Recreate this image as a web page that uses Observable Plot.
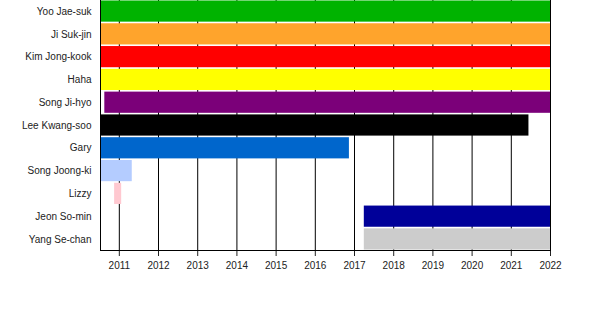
<!DOCTYPE html>
<html>
<head>
<meta charset="utf-8">
<script src="https://cdn.jsdelivr.net/npm/d3@7"></script>
<script src="https://cdn.jsdelivr.net/npm/@observablehq/plot@0.6"></script>
<style>
  html, body { margin: 0; padding: 0; background: #fff; }
  #chart svg { display: block; }
</style>
</head>
<body>
<div id="chart"></div>
<script>
const members = ["Yoo Jae-suk", "Ji Suk-jin", "Kim Jong-kook", "Haha", "Song Ji-hyo", "Lee Kwang-soo", "Gary", "Song Joong-ki", "Lizzy", "Jeon So-min", "Yang Se-chan"];
const starts = [2010.52, 2010.52, 2010.52, 2010.52, 2010.63, 2010.52, 2010.52, 2010.52, 2010.88, 2017.25, 2017.25];
const ends = [2022, 2022, 2022, 2022, 2022, 2021.45, 2016.87, 2011.33, 2011.06, 2022, 2022];
const colors = ["#00B300", "#FFA42C", "#FF0000", "#FFFF00", "#7B0079", "#000000", "#0066CC", "#B4CCFF", "#FFC8D0", "#000099", "#CCCCCC"];
const years = [2011, 2012, 2013, 2014, 2015, 2016, 2017, 2018, 2019, 2020, 2021, 2022];
const xStart = 2010.52;
const xEnd = 2022;

const rows = members.map((m, i) => ({member: m, start: starts[i], end: ends[i], color: colors[i]}));

const chart = Plot.plot({
  width: 600,
  height: 310,
  marginLeft: 100,
  marginRight: 50,
  marginTop: 0,
  marginBottom: 60,
  style: {fontFamily: "'Liberation Sans', Arial, sans-serif", fontSize: "10px", color: "#222", background: "#fff"},
  x: {domain: [xStart, xEnd], ticks: years, tickFormat: d => String(d), label: null, tickSize: 6, tickPadding: 5},
  y: {domain: members, label: null, tickSize: 0, tickPadding: 9, paddingInner: 0.07, paddingOuter: 0.02, round: false},
  marks: [
    Plot.ruleX(years, {stroke: "#000", strokeWidth: 1}),
    Plot.barX(rows, {y: "member", x1: "start", x2: "end", fill: "color"}),
    Plot.ruleX([xStart], {stroke: "#000", strokeWidth: 1}),
    Plot.frame({anchor: "bottom", stroke: "#000"})
  ]
});
document.getElementById("chart").appendChild(chart);
</script>
</body>
</html>
